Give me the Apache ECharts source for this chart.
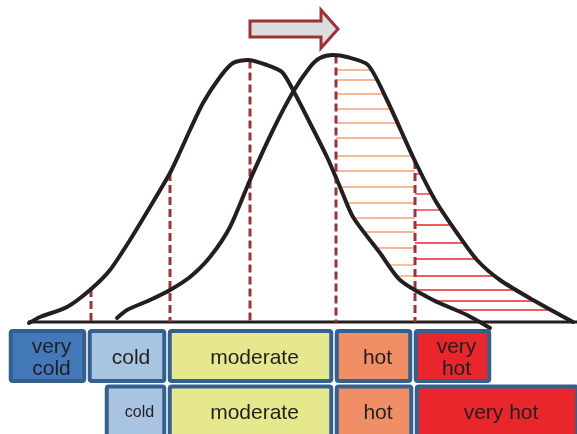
<!DOCTYPE html>
<html>
<head>
<meta charset="utf-8">
<script src="https://cdn.jsdelivr.net/npm/echarts@6/dist/echarts.min.js"></script>
<style>
  html, body { margin: 0; padding: 0; background: #ffffff; }
  #chart { width: 577px; height: 434px; }
</style>
</head>
<body>
<div id="chart"></div>
<script>
// Temperature distribution before (left curve) and after (right curve) a warming shift.
// x: temperature scale, y: frequency (0 = baseline).
const curveBeforeX = [29, 40, 67, 90, 110, 130, 150, 170, 180, 190, 203, 220, 233, 248, 267, 282, 293, 310, 327, 340, 353, 380, 400, 433, 467, 490];
const curveBeforeY = [-1, 5, 15, 32, 52, 82, 115, 149, 170, 192, 219, 245, 259, 262, 257, 250, 232, 199, 165, 135, 105, 69, 42, 22, 7, -6];
const curveAfterX = [117, 127, 150, 170, 190, 210, 230, 250, 273, 293, 310, 320, 333, 347, 368, 387, 413, 435, 457, 477, 500, 533, 573];
const curveAfterY = [4, 12, 22, 32, 45, 65, 95, 142, 192, 230, 255, 264, 267, 265, 257, 222, 165, 122, 89, 62, 42, 22, 0];

// Means of the two distributions (the arrow marks the shift between them)
const means = [250, 336];
// Category boundaries on the temperature scale
const thresholds = [91, 170, 250, 336, 415];

// Frequency levels of the hatching inside the "hot" and "very hot" tails
const hotHatchLevels = [252, 242, 228, 213, 199, 184, 166, 151, 135, 119, 104, 90, 74, 57, 46];
const veryHotHatchLevels = [148, 128, 112, 97, 79, 63, 46, 32, 21, 12];

// Category bands under the curves
const bandLabelsBefore = ['very\ncold', 'cold', 'moderate', 'hot', 'very\nhot'];
const bandEdgesBefore = [8, 87, 167, 334, 413, 492];
const bandLabelsAfter = ['cold', 'moderate', 'hot', 'very hot'];
const bandEdgesAfter = [104, 167, 334, 414, 580];

const bandColors = {
  'very cold': '#4379b9',
  'cold': '#a8c4e0',
  'moderate': '#e6e88e',
  'hot': '#f08f66',
  'very hot': '#e8262c'
};

function heightAt(xs, ys, x) {
  if (x < xs[0] || x > xs[xs.length - 1]) return 0;
  for (let i = 0; i < xs.length - 1; i++) {
    if (x >= xs[i] && x <= xs[i + 1]) {
      const t = (x - xs[i]) / (xs[i + 1] - xs[i]);
      return ys[i] + t * (ys[i + 1] - ys[i]);
    }
  }
  return 0;
}

// x where the falling (right) side of a curve reaches a given height
function rightCrossing(xs, ys, level) {
  let peak = 0;
  ys.forEach((v, i) => { if (v > ys[peak]) peak = i; });
  for (let i = peak; i < xs.length - 1; i++) {
    if (ys[i] >= level && ys[i + 1] <= level) {
      const t = (ys[i] - level) / (ys[i] - ys[i + 1]);
      return xs[i] + t * (xs[i + 1] - xs[i]);
    }
  }
  return null;
}

const zip = (xs, ys) => xs.map((x, i) => [x, ys[i]]);

// Hatch segments: hot band (mean..upper threshold) and very hot band (beyond upper threshold)
const hotHatch = [];
hotHatchLevels.forEach(h => {
  const b = rightCrossing(curveBeforeX, curveBeforeY, h);
  const a = rightCrossing(curveAfterX, curveAfterY, h);
  const x0 = Math.max(means[1], b === null ? -Infinity : b);
  const x1 = Math.min(a, thresholds[4]);
  if (x1 > x0) hotHatch.push([x0, x1, h]);
});
const veryHotHatch = [];
veryHotHatchLevels.forEach(h => {
  const b = rightCrossing(curveBeforeX, curveBeforeY, h);
  const a = rightCrossing(curveAfterX, curveAfterY, h);
  const x0 = Math.max(thresholds[4], b === null ? -Infinity : b);
  const x1 = a - 2;
  if (x1 > x0) veryHotHatch.push([x0, x1, h]);
});

// Dashed threshold markers reach up to the taller curve
const thresholdMarks = thresholds.map(x => [
  x,
  Math.max(heightAt(curveBeforeX, curveBeforeY, x), heightAt(curveAfterX, curveAfterY, x))
]);

function bandItems(labels, edges, row) {
  return labels.map((label, i) => ({
    name: label,
    value: [edges[i], edges[i + 1], row]
  }));
}
const bandData = bandItems(bandLabelsBefore, bandEdgesBefore, 0)
  .concat(bandItems(bandLabelsAfter, bandEdgesAfter, 1));

// Vertical layout of the two band rows (in frequency units below the baseline)
const bandRows = [
  { top: -7, bottom: -61, text: -36 },
  { top: -62.5, bottom: -125, text: -91 }
];

const hatchRender = color => (params, api) => {
  const p0 = api.coord([api.value(0), api.value(2)]);
  const p1 = api.coord([api.value(1), api.value(2)]);
  return {
    type: 'line',
    shape: { x1: p0[0], y1: p0[1], x2: p1[0], y2: p1[1] },
    style: { stroke: color, lineWidth: 1.3 }
  };
};

const chart = echarts.init(document.getElementById('chart'), null, { renderer: 'canvas' });
chart.setOption({
  animation: false,
  backgroundColor: '#ffffff',
  grid: { left: 0, right: 0, top: 0, bottom: 0 },
  xAxis: { type: 'value', min: 0, max: 577, show: false },
  yAxis: { type: 'value', min: -112, max: 322, show: false },
  series: [
    {
      // category bands
      type: 'custom',
      z: 1,
      data: bandData,
      renderItem: (params, api) => {
        const item = bandData[params.dataIndex];
        const row = bandRows[api.value(2)];
        const tl = api.coord([api.value(0), row.top]);
        const br = api.coord([api.value(1), row.bottom]);
        const x = tl[0] + 0.75, y = tl[1];
        const w = br[0] - tl[0] - 1.5, h = br[1] - tl[1];
        const ty = api.coord([0, row.text])[1];
        const key = item.name.replace('\n', ' ');
        const fontSize = w < 70 ? 16 : 21;
        return {
          type: 'group',
          children: [
            {
              type: 'rect',
              shape: { x: x + 2, y: y + 2, width: w - 4, height: h - 4, r: 2 },
              style: { fill: bandColors[key], stroke: '#33608f', lineWidth: 4 }
            },
            {
              type: 'text',
              x: x + w / 2 + 4,
              y: ty,
              style: {
                text: item.name,
                fill: '#231f20',
                fontSize: fontSize,
                fontFamily: '"Liberation Sans", Arial, sans-serif',
                lineHeight: 22,
                align: 'center',
                verticalAlign: 'middle'
              }
            }
          ]
        };
      }
    },
    {
      // baseline
      type: 'line',
      z: 2,
      data: [[28, 0], [577, 0]],
      showSymbol: false,
      lineStyle: { color: '#231f20', width: 3.2 },
      silent: true
    },
    {
      type: 'custom',
      z: 3,
      data: hotHatch,
      renderItem: hatchRender('#f3a077')
    },
    {
      type: 'custom',
      z: 3,
      data: veryHotHatch,
      renderItem: hatchRender('#e8262b')
    },
    {
      // dashed threshold markers
      type: 'custom',
      z: 4,
      data: thresholdMarks,
      renderItem: (params, api) => {
        const p0 = api.coord([api.value(0), api.value(1)]);
        const p1 = api.coord([api.value(0), 0]);
        return {
          type: 'line',
          shape: { x1: p0[0], y1: p0[1], x2: p1[0], y2: p1[1] },
          style: { stroke: '#9b3539', lineWidth: 3, lineDash: [8, 4] }
        };
      }
    },
    {
      type: 'line',
      z: 5,
      data: zip(curveBeforeX, curveBeforeY),
      showSymbol: false,
      smooth: 0.25,
      lineStyle: { color: '#231f20', width: 4, cap: 'round' }
    },
    {
      type: 'line',
      z: 5,
      data: zip(curveAfterX, curveAfterY),
      showSymbol: false,
      smooth: 0.25,
      lineStyle: { color: '#231f20', width: 4, cap: 'round' }
    },
    {
      // shift arrow from the old mean to the new mean
      type: 'custom',
      z: 6,
      data: [[means[0], means[1]]],
      renderItem: (params, api) => {
        const arrowLevel = 293;
        const s = api.coord([api.value(0), arrowLevel]);
        const e = api.coord([api.value(1), arrowLevel]);
        const x0 = s[0], xt = e[0] + 2, cy = s[1];
        const hx = xt - 17;
        return {
          type: 'polygon',
          shape: {
            points: [
              [x0, cy - 8], [hx, cy - 8], [hx, cy - 19], [xt, cy],
              [hx, cy + 19], [hx, cy + 8], [x0, cy + 8]
            ]
          },
          style: { fill: '#dcdddf', stroke: '#9b3236', lineWidth: 3, lineJoin: 'miter' }
        };
      }
    }
  ]
});
</script>
</body>
</html>
